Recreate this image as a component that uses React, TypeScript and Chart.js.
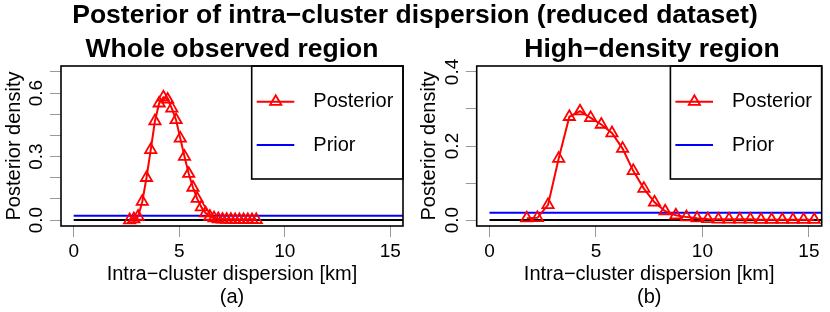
import React, { useEffect, useRef } from 'react';
import { Chart, registerables } from 'chart.js';

Chart.register(...registerables);

const FONT = "'Liberation Sans', Arial, Helvetica, sans-serif";

// ---- data ----
const leftX = [2.65, 2.85, 3.05, 3.25, 3.45, 3.65, 3.85, 4.05, 4.25, 4.45, 4.65, 4.85, 5.05, 5.25, 5.45, 5.65, 5.85, 6.05, 6.25, 6.45, 6.65, 6.85, 7.05, 7.25, 7.45, 7.65, 7.85, 8.05, 8.25, 8.45, 8.65];
const leftPosterior = [0.0, 0.005, 0.017, 0.087, 0.2, 0.332, 0.468, 0.552, 0.58, 0.57, 0.528, 0.473, 0.386, 0.3, 0.219, 0.154, 0.101, 0.061, 0.033, 0.017, 0.009, 0.005, 0.003, 0.002, 0.002, 0.001, 0.001, 0.001, 0.001, 0.001, 0.001];

const rightX = [1.75, 2.25, 2.75, 3.25, 3.75, 4.25, 4.75, 5.25, 5.75, 6.25, 6.75, 7.25, 7.75, 8.25, 8.75, 9.25, 9.75, 10.25, 10.75, 11.25, 11.75, 12.25, 12.75, 13.25, 13.75, 14.25, 14.75, 15.25];
const rightPosterior = [0.005, 0.006, 0.041, 0.166, 0.279, 0.294, 0.276, 0.258, 0.235, 0.193, 0.133, 0.085, 0.048, 0.024, 0.013, 0.008, 0.005, 0.003, 0.002, 0.002, 0.002, 0.002, 0.001, 0.001, 0.001, 0.001, 0.001, 0.001];

const priorDensity = 0.02;
const priorRangeX = [0, 50];

const xTicks = [0, 5, 10, 15];
const xTickLabels = ['0', '5', '10', '15'];
const leftYTicks = [0, 0.1, 0.2, 0.3, 0.4, 0.5, 0.6, 0.7];
const leftYLabels = ['0.0', '', '', '0.3', '', '', '0.6', ''];
const rightYTicks = [0, 0.1, 0.2, 0.3, 0.4];
const rightYLabels = ['0.0', '', '0.2', '', '0.4'];

const mainTitle = 'Posterior of intra\u2212cluster dispersion (reduced dataset)';
const leftTitle = 'Whole observed region';
const rightTitle = 'High\u2212density region';
const xTitle = 'Intra\u2212cluster dispersion [km]';
const yTitle = 'Posterior density';
const legendLabels = ['Posterior', 'Prior'];

interface PanelCfg {
  xs: number[];
  ys: number[];
  yMin: number;
  yMax: number;
  yTicks: number[];
  yLabels: string[];
  tag: string;
  yWidth: number;
  padRight: number;
}

const boxLegendPlugin = {
  id: 'boxLegend',
  afterDraw(chart: any) {
    const { ctx, chartArea } = chart;
    const { left, top, right, bottom } = chartArea;
    ctx.save();
    ctx.strokeStyle = '#000';
    ctx.lineWidth = 1.6;
    ctx.strokeRect(left, top, right - left, bottom - top);
    // legend
    const lw = 151.3;
    const lh = 113;
    const lx = right - lw;
    ctx.strokeRect(lx, top, lw, lh);
    const y1 = top + 35.7;
    const y2 = top + 79;
    ctx.lineWidth = 2;
    ctx.strokeStyle = '#FF0000';
    ctx.beginPath();
    ctx.moveTo(lx + 5, y1);
    ctx.lineTo(lx + 42.6, y1);
    ctx.stroke();
    const cx = lx + 24;
    const r = 6.5;
    ctx.lineWidth = 1.8;
    ctx.beginPath();
    ctx.moveTo(cx, y1 - r);
    ctx.lineTo(cx + r * Math.sin((2 * Math.PI) / 3), y1 - r * Math.cos((2 * Math.PI) / 3));
    ctx.lineTo(cx + r * Math.sin((4 * Math.PI) / 3), y1 - r * Math.cos((4 * Math.PI) / 3));
    ctx.closePath();
    ctx.stroke();
    ctx.lineWidth = 2;
    ctx.strokeStyle = '#0000FF';
    ctx.beginPath();
    ctx.moveTo(lx + 5, y2);
    ctx.lineTo(lx + 42.6, y2);
    ctx.stroke();
    ctx.fillStyle = '#000';
    ctx.font = `20px ${FONT}`;
    ctx.textAlign = 'left';
    ctx.textBaseline = 'middle';
    ctx.fillText(legendLabels[0], lx + 61.6, y1);
    ctx.fillText(legendLabels[1], lx + 61.6, y2);
    ctx.restore();
  },
};

function makeChart(canvas: HTMLCanvasElement, cfg: PanelCfg) {
  return new Chart(canvas, {
    type: 'line',
    data: {
      datasets: [
        {
          label: legendLabels[0],
          data: cfg.xs.map((x, i) => ({ x, y: cfg.ys[i] })),
          borderColor: '#FF0000',
          borderWidth: 2,
          pointStyle: 'triangle',
          pointRadius: 6.5,
          pointBorderColor: '#FF0000',
          pointBackgroundColor: 'rgba(0,0,0,0)',
          pointBorderWidth: 1.8,
          tension: 0,
        },
        {
          label: legendLabels[1],
          data: priorRangeX.map((x) => ({ x, y: priorDensity })),
          borderColor: '#0000FF',
          borderWidth: 2,
          pointRadius: 0,
        },
        {
          label: 'zero',
          data: priorRangeX.map((x) => ({ x, y: 0 })),
          borderColor: '#000000',
          borderWidth: 2,
          pointRadius: 0,
        },
      ],
    },
    options: {
      animation: false,
      responsive: false,
      maintainAspectRatio: false,
      events: [],
      layout: { padding: { left: 0, right: cfg.padRight, top: 66, bottom: 0 } },
      plugins: {
        legend: { display: false },
        tooltip: { enabled: false },
        title: { display: false },
      },
      scales: {
        x: {
          type: 'linear',
          min: -0.6,
          max: 15.6,
          afterBuildTicks: (s: any) => {
            s.ticks = xTicks.map((v) => ({ value: v }));
          },
          afterFit: (s: any) => {
            s.height = 86;
          },
          grid: { drawOnChartArea: false, drawTicks: true, tickLength: 11, color: '#9a9a9a', lineWidth: 1 },
          border: { display: false },
          ticks: {
            autoSkip: false,
            maxRotation: 0,
            minRotation: 0,
            padding: 3,
            color: '#000',
            font: { family: FONT, size: 19 },
            callback: (_v: any, i: number) => xTickLabels[i],
          },
          title: {
            display: true,
            text: [xTitle, cfg.tag],
            color: '#000',
            font: { family: FONT, size: 20, lineHeight: 1.15 },
            padding: { top: 0, bottom: 3 },
          },
        },
        y: {
          type: 'linear',
          min: cfg.yMin,
          max: cfg.yMax,
          afterBuildTicks: (s: any) => {
            s.ticks = cfg.yTicks.map((v) => ({ value: v }));
          },
          afterFit: (s: any) => {
            s.width = cfg.yWidth;
          },
          grid: { drawOnChartArea: false, drawTicks: true, tickLength: 11, color: '#9a9a9a', lineWidth: 1 },
          border: { display: false },
          ticks: {
            autoSkip: false,
            minRotation: 90,
            maxRotation: 90,
            crossAlign: 'center',
            padding: 0,
            color: '#000',
            font: { family: FONT, size: 19 },
            callback: (_v: any, i: number) => cfg.yLabels[i],
          },
          title: {
            display: true,
            text: yTitle,
            color: '#000',
            font: { family: FONT, size: 20, lineHeight: 1.2 },
            padding: { top: 2, bottom: 0 },
          },
        },
      },
    },
    plugins: [boxLegendPlugin],
  } as any);
}

export default function App() {
  const leftRef = useRef<HTMLCanvasElement>(null);
  const rightRef = useRef<HTMLCanvasElement>(null);

  useEffect(() => {
    const c1 = makeChart(leftRef.current!, {
      xs: leftX,
      ys: leftPosterior,
      yMin: -0.028,
      yMax: 0.728,
      yTicks: leftYTicks,
      yLabels: leftYLabels,
      tag: '(a)',
      yWidth: 61,
      padRight: 12,
    });
    const c2 = makeChart(rightRef.current!, {
      xs: rightX,
      ys: rightPosterior,
      yMin: -0.016,
      yMax: 0.416,
      yTicks: rightYTicks,
      yLabels: rightYLabels,
      tag: '(b)',
      yWidth: 61.7,
      padRight: 2.3,
    });
    return () => {
      c1.destroy();
      c2.destroy();
    };
  }, []);

  const titleStyle: React.CSSProperties = {
    position: 'absolute',
    fontFamily: FONT,
    fontWeight: 'bold',
    fontSize: 26.5,
    lineHeight: '26.5px',
    textAlign: 'center',
    whiteSpace: 'nowrap',
    color: '#000',
  };

  return (
    <div style={{ position: 'absolute', left: 0, top: 0, width: 830, height: 312, background: '#fff', overflow: 'hidden' }}>
      <canvas ref={leftRef} width={415} height={312} style={{ position: 'absolute', left: 0, top: 0, width: 415, height: 312 }} />
      <canvas ref={rightRef} width={415} height={312} style={{ position: 'absolute', left: 415, top: 0, width: 415, height: 312 }} />
      <div style={{ ...titleStyle, left: 0, width: 830, top: 1 }}>{mainTitle}</div>
      <div style={{ ...titleStyle, left: 32, width: 400, top: 35 }}>{leftTitle}</div>
      <div style={{ ...titleStyle, left: 452, width: 400, top: 35 }}>{rightTitle}</div>
    </div>
  );
}
